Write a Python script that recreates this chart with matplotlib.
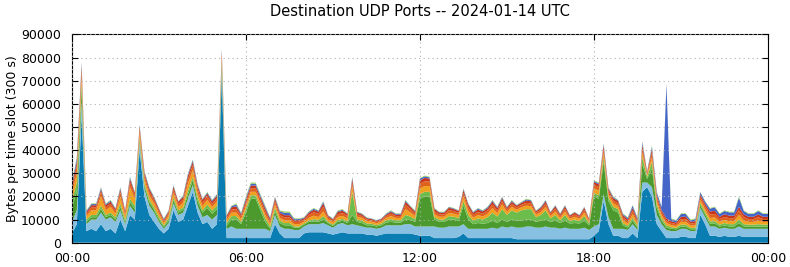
import numpy as np
import pandas as pd
import matplotlib
matplotlib.use("Agg")
import matplotlib.pyplot as plt
import matplotlib.dates as mdates

# ===============================
# data (kB per slot, 10 min steps)
# ===============================
times = pd.date_range("2024-01-14 00:00", periods=145, freq="10min")

teal = [4, 8, 55, 5, 6, 5, 8, 5, 6, 4, 10, 5,
        12, 10, 40, 20, 12, 9, 6, 4, 6, 14, 9, 10,
        16, 22, 13, 8, 9, 6, 8, 72, 2, 2, 2, 2,
        2, 2, 2, 2, 2, 2, 8, 4, 2, 2, 2, 2,
        4, 4.5, 4.5, 4.5, 4.5, 4, 3.5, 4, 4.5, 4, 4, 4,
        4, 3.5, 3.5, 3, 3.5, 4, 4, 4, 4, 4, 4, 3.5,
        3, 3, 3, 2, 2, 2, 2, 2, 2.5, 4, 2, 2,
        2, 2, 2, 2, 2, 2, 2, 2, 1.5, 1.5, 1.5, 1.5,
        1.5, 1.5, 1.5, 1.5, 1.5, 1.5, 1.5, 1.5, 1.5, 1.5, 1.5, 1.5,
        3, 5, 18, 8, 3, 3, 2, 2, 4, 2, 22, 24,
        20, 8, 5, 2, 2, 2, 2.5, 2.5, 2, 2, 12, 8,
        3, 3, 2.5, 3, 2.5, 2.5, 3, 2.5, 2.5, 2.5, 2.5, 2.5,
        2.5]
light_blue = [5, 6, 6, 3, 4, 5, 5, 5, 5, 5, 4, 3,
              4, 3, 3, 3, 4, 4, 3, 2, 2.5, 3, 3, 3,
              3, 3, 3, 3, 3, 4, 4, 3, 4, 5, 4, 4,
              4, 4, 4, 4, 4, 3, 4, 3, 4, 4, 3.5, 3.5,
              3, 3.5, 3.5, 3.5, 4, 3.5, 3, 4, 4, 3.5, 4, 3.5,
              3, 3, 3, 3, 3, 3.5, 3.5, 3.5, 3.5, 4, 4, 3.5,
              4, 4, 4, 5, 4.5, 4.5, 5, 5, 4.5, 4, 4, 4,
              4, 4, 4, 4.5, 4, 5, 4.5, 5, 5, 5, 5.5, 5.5,
              5, 5, 5.5, 5, 5, 4.5, 5, 4.5, 4.5, 4.5, 5, 4,
              4, 3, 3, 3, 3, 3, 4, 3.5, 4, 3.5, 4, 2,
              4, 4, 3, 3.5, 3, 3, 3.5, 3.5, 3, 3, 3, 3,
              4, 4, 3.5, 3.5, 3.5, 3.5, 4, 3.5, 3.5, 3.5, 3.5, 3.5,
              3.5]
green = [6, 8, 5, 1, 1, 1, 1.5, 1, 1, 1, 1.5, 1,
         1.5, 1.5, 1.5, 1.5, 1.5, 1.2, 1, 0.8, 1, 1.5, 1, 1.2,
         2, 2, 2, 2, 3, 2.5, 2.5, 2, 1.5, 3, 4, 2,
         7, 13, 13, 8, 3, 1, 1.5, 1.5, 1.5, 1.5, 1, 1,
         0.8, 1, 1.2, 1, 1.5, 1, 0.8, 1, 1, 1, 4, 1.5,
         1.5, 1, 1, 1, 1, 1.2, 1.5, 1.2, 1.2, 2, 1.8, 2,
         12, 13, 13, 3, 2.5, 2.5, 3, 3, 2.5, 8, 4, 2,
         2.5, 2.2, 2.5, 3, 2.5, 3, 2.5, 3, 3, 3, 3, 3,
         2.5, 3, 3, 2.5, 3, 2.5, 3, 2.3, 2.5, 2.3, 3, 2,
         13, 11, 14, 7, 8, 7, 1.5, 1, 1.5, 1, 8, 1.5,
         8, 3, 1.5, 1, 1, 0.8, 1, 1, 0.8, 0.8, 1.2, 1.2,
         1.2, 1.3, 1, 1, 1, 1, 1.5, 1, 1, 1, 1, 1,
         1]
light_green = [3, 4, 3, 1, 1, 1, 1.5, 1, 1, 1, 1.5, 1,
               1.5, 1.5, 1, 1, 1, 1, 1, 0.7, 1, 1, 1, 1,
               1.5, 1.5, 1.5, 1, 1.5, 1.5, 1.5, 1.5, 1, 1.5, 1.5, 1,
               1.5, 1.5, 1.5, 1.5, 1.5, 1, 1.5, 1, 1, 1, 0.5, 0.5,
               0.5, 0.5, 1, 0.8, 1.5, 0.5, 0.5, 0.8, 0.8, 0.8, 10, 1,
               1, 0.8, 0.7, 0.6, 0.7, 1, 1.2, 1, 1, 2, 1.5, 1.2,
               2, 2, 2, 1, 1, 1, 1.5, 1.2, 1.2, 2, 2, 1.5,
               2, 1.8, 2.5, 3.5, 2.8, 4.5, 3, 4, 3.5, 4.5, 4.5, 4.5,
               2, 2.5, 4, 1.5, 2.5, 1.2, 2.5, 1, 1.5, 1, 2, 0.8,
               1.5, 1.5, 2, 1.5, 1.5, 1.5, 1, 0.8, 1.3, 0.8, 3, 1,
               3, 1.5, 1, 1, 0.7, 0.6, 0.8, 0.8, 0.6, 0.7, 1, 1,
               1, 1, 0.8, 1, 1, 1, 1.5, 1, 0.8, 0.8, 1, 0.8,
               0.8]
yellow = [3, 4, 3, 1.5, 2, 2, 4, 2, 2.5, 1.5, 3, 1.5,
          5, 3, 2, 2, 2, 1.8, 1.5, 1, 1.3, 2, 1.5, 2,
          3, 3, 2, 1.8, 2, 1.5, 1.8, 1.5, 1.2, 1.5, 1.5, 1.2,
          1.5, 1.5, 1.5, 1.5, 1.5, 1.2, 1.5, 1.2, 1.2, 1.2, 1, 1,
          0.8, 1.2, 1.5, 1.3, 2, 1, 1, 1.3, 1.3, 1.2, 2.5, 1.2,
          1.2, 1, 0.9, 0.8, 0.9, 1, 1.3, 1, 1, 2.5, 1.8, 1.3,
          2.5, 2.5, 2.5, 1.3, 1.2, 1.2, 1.4, 1.3, 1.2, 2, 1.8, 1.3,
          1.5, 1.3, 1.5, 2, 1.5, 2, 1.3, 1.5, 1.2, 1.3, 1.5, 1.3,
          1.1, 1.2, 1.5, 1, 1.5, 1, 1.5, 1, 1.2, 1, 1.5, 0.8,
          2, 2, 2, 1.5, 1.5, 1.3, 1.2, 1, 1.5, 1, 2, 0.8,
          2, 1.5, 1.3, 1, 0.9, 0.8, 1.2, 1.2, 1, 1, 1.3, 1.3,
          1.5, 1.6, 1.2, 1.3, 1.3, 1.3, 2, 1.5, 1.2, 1.2, 1.5, 1.2,
          1.2]
orange = [2, 3, 2.5, 1, 1.2, 1.2, 2, 1.2, 1.2, 1.2, 2, 1.2,
          2, 1.5, 1.5, 1.5, 1.5, 1.2, 1.2, 0.8, 1, 1.5, 1.2, 1.5,
          2, 2, 1.8, 1.5, 1.5, 1.3, 1.5, 1.5, 1, 1.3, 1.5, 1.2,
          1.5, 1.5, 1.5, 1.5, 1.5, 1, 1.5, 1.2, 1.2, 1.2, 1, 1,
          0.8, 1.2, 1.5, 1.3, 2, 0.8, 0.8, 1.2, 1.2, 1, 1.5, 1,
          0.8, 0.7, 0.6, 0.6, 0.6, 0.8, 1, 0.8, 0.8, 1.8, 1.5, 1,
          2, 2, 2, 1.2, 1, 1, 1.2, 1.1, 1, 1.5, 1.5, 1.2,
          1.3, 1.2, 1.4, 1.5, 1.2, 1.5, 1, 1.2, 1, 1.1, 1.2, 1.2,
          0.9, 1, 1.3, 0.9, 1.2, 0.8, 1.2, 0.8, 1, 0.8, 1.2, 0.6,
          1.5, 1.5, 1.5, 1.2, 1.2, 1.2, 1.2, 1, 1.5, 1, 2, 0.7,
          2, 1.5, 1.2, 1, 0.9, 0.8, 1.2, 1.2, 0.9, 1, 1.3, 1.3,
          1.5, 1.5, 1.2, 1.3, 1.3, 1.3, 2, 1.5, 1.2, 1.2, 1.5, 1.2,
          1.2]
red = [1.5, 2, 2, 0.8, 1, 1, 1, 1, 1, 0.8, 1, 1,
       1.5, 1, 1.2, 1.2, 1.2, 1, 0.8, 0.6, 0.7, 1.2, 1, 1,
       1.5, 1.5, 1.2, 1.2, 1.2, 1, 1, 1.2, 0.8, 1, 1.2, 0.8,
       1.2, 1.2, 1.2, 1.2, 1.2, 1, 1.2, 1, 1, 1, 0.7, 0.7,
       0.6, 1, 1, 1, 1.5, 0.7, 0.5, 1, 1, 0.8, 1.5, 0.8,
       0.7, 0.6, 0.5, 0.5, 0.5, 0.6, 0.8, 0.6, 0.6, 1.3, 1, 0.8,
       1.5, 1.5, 1.2, 1, 0.8, 0.8, 1, 0.9, 0.8, 1.2, 1.2, 0.9,
       1, 1, 1, 1.2, 1, 1.2, 0.8, 1, 0.8, 0.8, 1, 0.9,
       0.6, 0.8, 1, 0.6, 1, 0.7, 1, 0.6, 0.8, 0.6, 0.9, 0.5,
       1.2, 1.2, 1.5, 1, 1, 1, 1, 0.8, 1.2, 0.8, 1.5, 0.5,
       1.5, 1.2, 1, 1, 0.8, 0.7, 1, 1, 0.8, 0.8, 1, 1,
       1.3, 1.4, 1, 1.2, 1.1, 1.1, 1.5, 1.2, 1, 1, 1.2, 1,
       1]
blue = [1, 1.5, 1, 0.5, 0.5, 0.5, 0.7, 0.5, 0.5, 0.3, 0.7, 0.2,
        0.7, 0.3, 0.5, 0.5, 0.5, 0.5, 0.3, 0.4, 0.3, 0.5, 0.2, 0.5,
        0.7, 0.7, 0.7, 0.3, 0.5, 0.5, 0.5, 0.8, 0.3, 0.5, 0.8, 0.5,
        0.8, 0.8, 0.8, 0.8, 0.8, 0.5, 0.5, 0.7, 1, 1, 0.5, 0.5,
        0.3, 0.4, 0.5, 0.4, 0.7, 0.3, 0.2, 0.4, 0.4, 0.2, 0.7, 0.3,
        0.3, 0.2, 0.2, 0.2, 0.2, 0.4, 0.4, 0.4, 0.4, 0.6, 0.2, 0.4,
        0.7, 0.7, 0.5, 0.3, 0.2, 0.2, 0.3, 0.3, 0.2, 0.5, 0.3, 0.3,
        0.5, 0.3, 0.5, 0.5, 0.4, 0.5, 0.3, 0.5, 0.2, 0.3, 0.5, 0.4,
        0.2, 0.4, 0.5, 0.2, 0.4, 0.3, 0.4, 0.2, 0.2, 0.2, 0.3, 0.2,
        0.5, 0.5, 0.7, 0.5, 0.5, 0.3, 0.5, 0.6, 1, 0.6, 1, 0.3,
        1, 1, 1.4, 58, 0.9, 0.8, 1.2, 1.2, 0.6, 0.9, 1, 1,
        1.2, 1.5, 1.2, 1.4, 1.4, 1.4, 4, 1.5, 1.2, 1.2, 1.5, 1.2,
        1.2]
top = [0.5, 0.5, 0.5, 0.2, 0.3, 0.3, 0.3, 0.3, 0.3, 0.2, 0.3, 0.1,
       0.3, 0.2, 0.3, 0.3, 0.3, 0.3, 0.2, 0.2, 0.2, 0.3, 0.1, 0.3,
       0.3, 0.3, 0.3, 0.2, 0.3, 0.2, 0.2, 0.5, 0.2, 0.2, 0.5, 0.3,
       0.5, 0.5, 0.5, 0.5, 0.5, 0.3, 0.3, 0.4, 0.6, 0.6, 0.3, 0.3,
       0.2, 0.2, 0.3, 0.2, 0.3, 0.2, 0.2, 0.3, 0.3, 0.2, 0.3, 0.2,
       0.2, 0.2, 0.1, 0.1, 0.1, 0.2, 0.3, 0.2, 0.2, 0.3, 0.2, 0.3,
       0.3, 0.3, 0.3, 0.2, 0.2, 0.2, 0.2, 0.2, 0.1, 0.3, 0.2, 0.2,
       0.2, 0.2, 0.2, 0.3, 0.2, 0.3, 0.2, 0.3, 0.1, 0.2, 0.3, 0.2,
       0.2, 0.2, 0.2, 0.2, 0.2, 0.2, 0.2, 0.1, 0.2, 0.1, 0.2, 0.1,
       0.3, 0.3, 0.3, 0.3, 0.3, 0.2, 0.3, 0.3, 0.3, 0.3, 0.5, 0.2,
       0.5, 0.3, 0.2, 0.5, 0.3, 0.3, 0.3, 0.3, 0.3, 0.3, 0.2, 0.2,
       0.3, 0.3, 0.3, 0.3, 0.3, 0.3, 0.5, 0.3, 0.3, 0.3, 0.3, 0.3,
       0.3]

layers = [teal, light_blue, green, light_green, yellow, orange, red, blue, top]
colors = ["#0a7db3", "#88c0e2", "#4c9a2e", "#6cbd4c", "#f0a21e",
          "#e0621a", "#c8371c", "#4566c8", "#9ad260"]

# ===============================
# plot
# ===============================
fig = plt.figure(figsize=(7.9, 2.67), dpi=100)
ax = fig.add_axes([0.0911, 0.091, 0.881, 0.780])

ys = [np.array(l) * 1000 for l in layers]
ax.stackplot(times, *ys, colors=colors, linewidth=0)

ax.set_xlim(pd.Timestamp("2024-01-14 00:00"), pd.Timestamp("2024-01-15 00:00"))
ax.set_ylim(0, 90000)
ax.set_yticks(range(0, 90001, 10000))
ax.xaxis.set_major_locator(mdates.HourLocator(byhour=[0, 6, 12, 18]))
ax.xaxis.set_major_formatter(mdates.DateFormatter("%H:%M"))
ax.tick_params(direction="in", top=True, right=True, labelsize=9, length=4)
ax.tick_params(axis="x", pad=7)
ax.tick_params(axis="y", pad=8)
ax.grid(True, linestyle=(0, (1, 3)), color="#b0b0b0", linewidth=0.8)
ax.set_axisbelow(False)

ax.set_ylabel("Bytes per time slot (300 s)", fontsize=9, labelpad=1)
ax.set_title("Destination UDP Ports -- 2024-01-14 UTC", fontsize=10.5, pad=13)

fig.savefig("out.png", dpi=100)
